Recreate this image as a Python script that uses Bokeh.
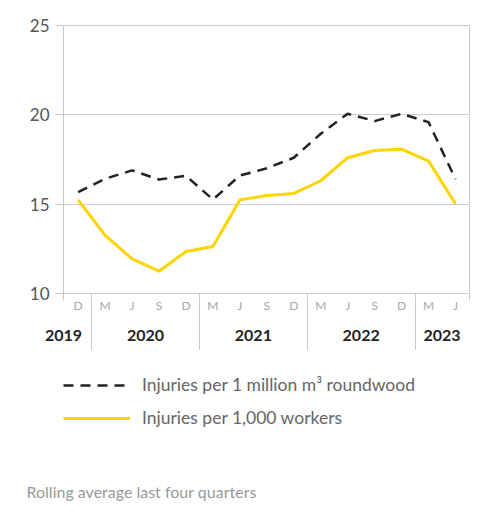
from bokeh.plotting import figure
from bokeh.models import Range1d, FixedTicker, Legend, LegendItem, LinearAxis, Title
from bokeh.layouts import column
from bokeh.embed import file_html
from bokeh.resources import INLINE

# ---- data ----
months = ["D", "M", "J", "S", "D", "M", "J", "S", "D", "M", "J", "S", "D", "M", "J"]
roundwood = [15.67, 16.42, 16.89, 16.38, 16.59, 15.26, 16.60, 17.01, 17.60, 18.94,
             20.06, 19.65, 20.06, 19.59, 16.40]
workers = [15.24, 13.25, 11.94, 11.25, 12.35, 12.63, 15.24, 15.49, 15.60, 16.31,
           17.60, 18.00, 18.08, 17.41, 15.02]
years = ["2019", "2020", "2021", "2022", "2023"]
year_counts = [1, 4, 4, 4, 2]
y_ticks = [10, 15, 20, 25]
series_names = ["Injuries per 1 million m³ roundwood", "Injuries per 1,000 workers"]
footnote = "Rolling average last four quarters"

x = list(range(len(months)))

# group geometry from counts
starts = []
s = 0
for c in year_counts:
    starts.append(s)
    s += c
separators = [st - 0.5 for st in starts[1:]]

X0, X1 = -0.545, 14.52
Y0, Y1 = 10, 25

year_pos = [st + (c - 1) / 2 for st, c in zip(starts, year_counts)]
year_pos[0] = X0 + 0.001   # first year label sits on the left edge

W = 483
HA = 350
HB = 514 - HA
EDGE = 7      # short end ticks
SEP = 57      # full separator length

GRAY = "#c8c8c8"

# ---------------- chart ----------------
p = figure(width=W, height=HA, x_range=Range1d(X0, X1), y_range=Range1d(Y0, Y1),
           output_backend="svg", toolbar_location=None, x_axis_location=None,
           min_border_left=63, min_border_right=14, min_border_top=25, min_border_bottom=HA - 293)
p.background_fill_color = "white"
p.border_fill_color = "white"
p.outline_line_color = "#cccccc"

r1 = p.line(x, roundwood, line_color="#222222", line_width=2.5, line_dash="10 7")
r2 = p.line(x, workers, line_color="#ffd500", line_width=3)

# edge axis: short ticks at both frame ends, start of separators
ea = LinearAxis(ticker=FixedTicker(ticks=[X0 + 0.001, X1 - 0.001], minor_ticks=separators),
                major_label_overrides={X0 + 0.001: "", X1 - 0.001: ""})
ea.major_tick_out = EDGE
ea.major_tick_in = 0
ea.minor_tick_out = EDGE
ea.minor_tick_in = 0
ea.major_tick_line_color = GRAY
ea.minor_tick_line_color = GRAY
ea.axis_line_color = None
ea.major_label_standoff = 0
ea.major_label_text_font_size = "0px"
p.add_layout(ea, "below")

# month axis, with year separators continuing as long minor ticks
xa = LinearAxis(ticker=FixedTicker(ticks=x, minor_ticks=separators),
                major_label_overrides={i: m for i, m in zip(x, months)})
xa.major_tick_out = 0
xa.major_tick_in = 0
xa.major_tick_line_color = None
xa.minor_tick_line_color = GRAY
xa.minor_tick_out = SEP - EDGE
xa.minor_tick_in = 0
xa.axis_line_color = None
xa.major_label_standoff = 4 - SEP
xa.major_label_text_font = "Lato"
xa.major_label_text_font_size = "12px"
xa.major_label_text_color = "#a8a8a8"
p.add_layout(xa, "below")

# year axis
ya2 = LinearAxis(ticker=FixedTicker(ticks=year_pos),
                 major_label_overrides={pos: yr for pos, yr in zip(year_pos, years)})
ya2.major_tick_out = 0
ya2.major_tick_in = 0
ya2.major_tick_line_color = None
ya2.minor_tick_line_color = None
ya2.axis_line_color = None
ya2.major_label_standoff = 14
ya2.major_label_text_font = "Lato"
ya2.major_label_text_font_style = "bold"
ya2.major_label_text_font_size = "16px"
ya2.major_label_text_color = "#222222"
p.add_layout(ya2, "below")

ya = p.yaxis[0]
ya.ticker = FixedTicker(ticks=y_ticks)
ya.axis_line_color = GRAY
ya.major_tick_line_color = GRAY
ya.major_tick_out = 8
ya.major_tick_in = 0
ya.minor_tick_line_color = None
ya.major_label_standoff = 6
ya.major_label_text_font = "Lato"
ya.major_label_text_font_size = "17px"
ya.major_label_text_color = "#555555"

p.xgrid.visible = False
p.ygrid.ticker = FixedTicker(ticks=y_ticks)
p.ygrid.grid_line_color = "#cccccc"

# ---------------- legend + footnote ----------------
QB = 35  # bottom border of the lower panel, holds the footnote
q = figure(width=W, height=HB, x_range=Range1d(X0, X1), y_range=Range1d(0, 1),
           output_backend="svg", toolbar_location=None,
           x_axis_location=None, y_axis_location=None,
           min_border_left=63, min_border_right=14, min_border_top=0, min_border_bottom=QB)
q.grid.visible = False
q.outline_line_color = None
q.background_fill_color = "white"
q.border_fill_color = "white"

# legend keys: same series, drawn outside this panel's visible range
k1 = q.line(x, roundwood, line_color="#222222", line_width=2.5, line_dash="10 7")
k2 = q.line(x, workers, line_color="#ffd500", line_width=3)

legend = Legend(items=[LegendItem(label=series_names[0], renderers=[k1]),
                       LegendItem(label=series_names[1], renderers=[k2])],
                location=(0, (514 - QB) - 428), orientation="vertical",
                glyph_width=67, glyph_height=20,
                label_height=20, label_standoff=12, spacing=12, padding=0, margin=0,
                border_line_color=None, background_fill_alpha=0,
                label_text_font="Lato", label_text_font_size="17.5px", label_text_color="#666666")
q.add_layout(legend)

q.add_layout(Title(text=footnote, align="left", offset=-37, standoff=0,
                   text_font="Lato", text_font_style="normal", text_font_size="16px",
                   text_color="#999999"), "below")

open("out.html", "w").write(file_html(column(p, q, spacing=0), INLINE))
